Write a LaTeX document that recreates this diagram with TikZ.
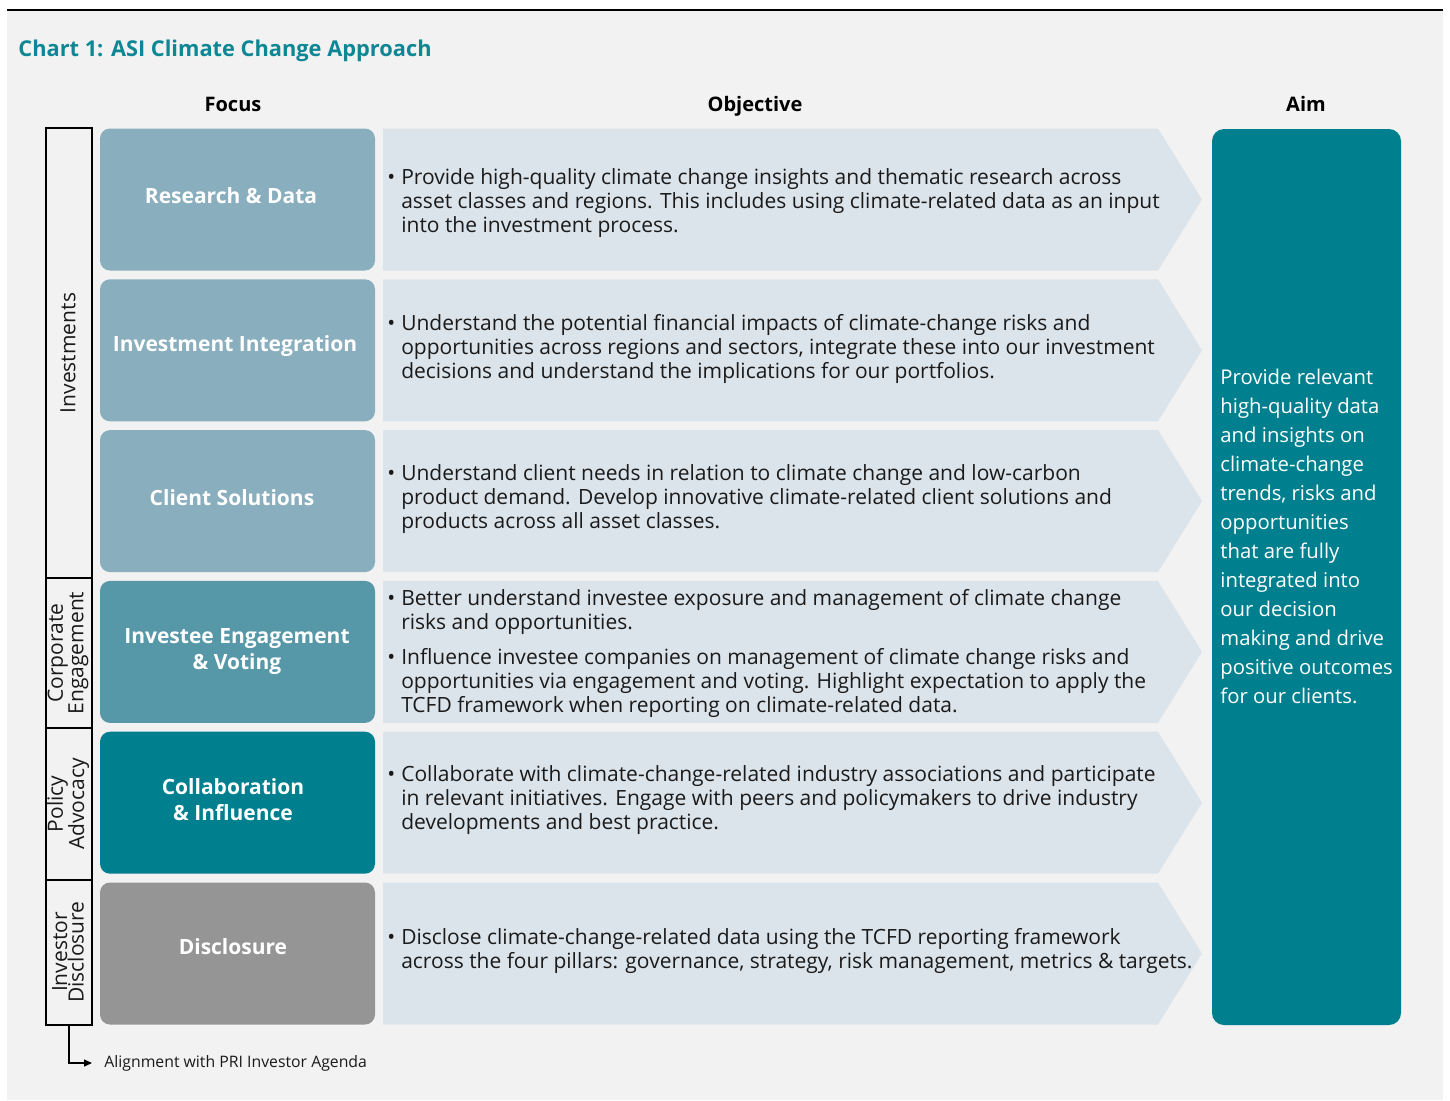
\documentclass[tikz,border=0pt]{standalone}
\usepackage{fontspec}
\setmainfont{Open Sans}
\usetikzlibrary{arrows.meta}
\definecolor{bgc}{HTML}{F2F2F2}
\definecolor{chev}{HTML}{DCE4EB}
\definecolor{flight}{HTML}{89AEBD}
\definecolor{fmid}{HTML}{5697A8}
\definecolor{teal}{HTML}{00808F}
\definecolor{fgray}{HTML}{959595}
\definecolor{titlec}{HTML}{0E8794}
\definecolor{txt}{HTML}{1A1A1A}
\tikzset{
  focusbox/.style={rounded corners=5pt, minimum width=137.5pt, minimum height=71pt, inner sep=0pt},
  focustext/.style={inner sep=0pt, text=white, font=\fontsize{10.5}{13}\selectfont\bfseries, align=center},
  objtext/.style={anchor=west, inner sep=0pt, text=txt, font=\fontsize{10.5}{12}\selectfont},
  header/.style={anchor=base, inner sep=0pt, text=black, font=\fontsize{10}{12}\selectfont\bfseries},
  sidelabel/.style={rotate=90, inner sep=0pt, align=center, text=txt, font=\fontsize{10.5}{9}\selectfont},
}
\newcommand\bl{\textbullet}
\begin{document}
\begin{tikzpicture}[x=0.5pt,y=-0.5pt]
\useasboundingbox (0,0) rectangle (1450,1100);
\fill[bgc] (7,11) rectangle (1443,1100);
\draw[line width=1.3pt] (7,10) -- (1443,10);

\node[anchor=base west, inner sep=0pt, text=titlec, font=\fontsize{10.9}{14}\selectfont\bfseries] (title) at (18,56) {Chart 1: ASI Climate Change Approach};

\node[header] (hfocus) at (233,111) {Focus};
\node[header] (hobj) at (755,111) {Objective};
\node[header] (haim) at (1306,111) {Aim};

% chevrons
\foreach \t/\m/\b in {128.5/199.5/270.5, 279.3/350.3/421.3, 430.1/501.1/572.1, 580.9/651.9/722.9, 731.7/802.7/873.7, 882.5/953.5/1024.5}{
  \fill[chev] (383,\t) -- (1158,\t) -- (1202,\m) -- (1158,\b) -- (383,\b) -- cycle;
}

% focus boxes
\node[focusbox, fill=flight] (f1) at (237.5,199.5) {};
\node[focusbox, fill=flight] (f2) at (237.5,350.3) {};
\node[focusbox, fill=flight] (f3) at (237.5,501.1) {};
\node[focusbox, fill=fmid] (f4) at (237.5,651.9) {};
\node[focusbox, fill=teal] (f5) at (237.5,802.7) {};
\node[focusbox, fill=fgray] (f6) at (237.5,953.5) {};
\node[focustext] (t1) at (231,195.5) {Research \& Data};
\node[focustext] (t2) at (235,346.5) {Investment Integration};
\node[focustext] (t3) at (232,498) {Client Solutions};
\node[focustext] (t4) at (237,652) {Investee Engagement\\\& Voting};
\node[focustext] (t5) at (233,800) {Collaboration\\\& Influence};
\node[focustext] (t6) at (233,946.5) {Disclosure};

% objective texts
\node[objtext] (o1) at (387,204) {\begin{tabular}{@{}l@{\hspace{3pt}}l@{}}
\bl & Provide high-quality climate change insights and thematic research across\\
& asset classes and regions. This includes using climate-related data as an input\\
& into the investment process.\end{tabular}};
\node[objtext] (o2) at (387,350) {\begin{tabular}{@{}l@{\hspace{3pt}}l@{}}
\bl & Understand the potential financial impacts of climate-change risks and\\
& opportunities across regions and sectors, integrate these into our investment\\
& decisions and understand the implications for our portfolios.\end{tabular}};
\node[objtext] (o3) at (387,500) {\begin{tabular}{@{}l@{\hspace{3pt}}l@{}}
\bl & Understand client needs in relation to climate change and low-carbon\\
& product demand. Develop innovative climate-related client solutions and\\
& products across all asset classes.\end{tabular}};
\node[objtext] (o4) at (387,654) {\begin{tabular}{@{}l@{\hspace{3pt}}l@{}}
\bl & Better understand investee exposure and management of climate change\\
& risks and opportunities.\\[5.5pt]
\bl & Influence investee companies on management of climate change risks and\\
& opportunities via engagement and voting. Highlight expectation to apply the\\
& TCFD framework when reporting on climate-related data.\end{tabular}};
\node[objtext] (o5) at (387,801) {\begin{tabular}{@{}l@{\hspace{3pt}}l@{}}
\bl & Collaborate with climate-change-related industry associations and participate\\
& in relevant initiatives. Engage with peers and policymakers to drive industry\\
& developments and best practice.\end{tabular}};
\node[objtext] (o6) at (387,952) {\begin{tabular}{@{}l@{\hspace{3pt}}l@{}}
\bl & Disclose climate-change-related data using the TCFD reporting framework\\
& across the four pillars: governance, strategy, risk management, metrics \& targets.\end{tabular}};

% aim
\node[fill=teal, rounded corners=6pt, minimum width=94.5pt, minimum height=448pt, inner sep=0pt] (aim) at (1306.5,577) {};
\node[anchor=west, inner sep=0pt, text=white, align=left, font=\fontsize{10.15}{14.5}\selectfont] (aimtext) at (1220,536) {Provide relevant\\high-quality data\\and insights on\\climate-change\\trends, risks and\\opportunities\\that are fully\\integrated into\\our decision\\making and drive\\positive outcomes\\for our clients.};

% bracket
\node[draw=black, line width=0.6pt, minimum width=23pt, minimum height=448.5pt, inner sep=0pt] (brk) at (69,576.5) {};
\draw[line width=0.6pt] (brk.west |- 0,578) -- (brk.east |- 0,578);
\draw[line width=0.6pt] (brk.west |- 0,728) -- (brk.east |- 0,728);
\draw[line width=0.6pt] (brk.west |- 0,880) -- (brk.east |- 0,880);
\node[sidelabel] (l1) at (68,353) {Investments};
\node[sidelabel] (l2) at (68,653) {Corporate\\[-0.8pt]Engagement};
\node[sidelabel] (l3) at (68,804) {Policy\\[-0.8pt]Advocacy};
\node[sidelabel] (l4) at (68,952) {Investor\\[-0.8pt]Disclosure};

\node[anchor=west, inner xsep=6pt, inner ysep=0pt, text=txt, font=\fontsize{7.9}{10}\selectfont] (pri) at (92,1063) {Alignment with PRI Investor Agenda};
\draw[line width=0.6pt, -{Triangle[length=4pt,width=3.5pt]}] (brk.south) |- (pri.west);
\end{tikzpicture}
\end{document}
